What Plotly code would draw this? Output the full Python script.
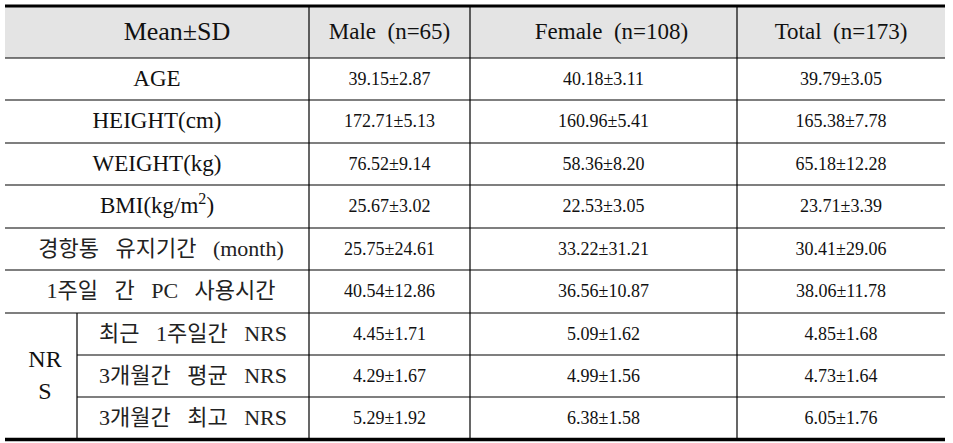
import plotly.graph_objects as go

# ---------------- data ----------------
SP = "\u00a0\u00a0\u00a0"
HSP = "\u00a0\u00a0"
header_labels = ["Mean±SD", "Male" + HSP + "(n=65)", "Female" + HSP + "(n=108)", "Total" + HSP + "(n=173)"]
row_labels = [
    "AGE",
    "HEIGHT(cm)",
    "WEIGHT(kg)",
    "BMI(kg/m<sup>2</sup>)",
    "경항통" + SP + "유지기간" + SP + "(month)",
    "1주일" + SP + "간" + SP + "PC" + SP + "사용시간",
]
nrs_group_label = "NR<br>S"
nrs_labels = [
    "최근" + SP + "1주일간" + SP + "NRS",
    "3개월간" + SP + "평균" + SP + "NRS",
    "3개월간" + SP + "최고" + SP + "NRS",
]
male_mean = [39.15, 172.71, 76.52, 25.67, 25.75, 40.54, 4.45, 4.29, 5.29]
male_sd = [2.87, 5.13, 9.14, 3.02, 24.61, 12.86, 1.71, 1.67, 1.92]
female_mean = [40.18, 160.96, 58.36, 22.53, 33.22, 36.56, 5.09, 4.99, 6.38]
female_sd = [3.11, 5.41, 8.20, 3.05, 31.21, 10.87, 1.62, 1.56, 1.58]
total_mean = [39.79, 165.38, 65.18, 23.71, 30.41, 38.06, 4.85, 4.73, 6.05]
total_sd = [3.05, 7.78, 12.28, 3.39, 29.06, 11.78, 1.68, 1.64, 1.76]

# ---------------- layout geometry ----------------
X_LEFT, X_SPLIT, X_C1, X_C2, X_C3, X_RIGHT = 5, 77, 309, 470, 737, 945
Y_TOP, Y_HEAD = 6, 58
ROW_LINES = [58, 100, 143, 185, 228, 270, 313, 355, 397, 439.5]

fig = go.Figure()

# header background
fig.add_shape(type="rect", xref="x", yref="y", x0=X_LEFT, x1=X_RIGHT, y0=Y_TOP, y1=Y_HEAD,
              fillcolor="#e4e4e4", line=dict(width=0), layer="below")

# vertical lines
for xv in [X_C1, X_C2, X_C3]:
    fig.add_shape(type="line", xref="x", yref="y", x0=xv, x1=xv, y0=Y_TOP, y1=ROW_LINES[-1],
                  line=dict(color="black", width=1.2))
fig.add_shape(type="line", xref="x", yref="y", x0=X_SPLIT, x1=X_SPLIT, y0=ROW_LINES[6], y1=ROW_LINES[-1],
              line=dict(color="black", width=1.2))

# horizontal lines
for i, yv in enumerate(ROW_LINES[:-1]):
    x0 = X_SPLIT if i in (7, 8) else X_LEFT
    fig.add_shape(type="line", xref="x", yref="y", x0=x0, x1=X_RIGHT, y0=yv, y1=yv,
                  line=dict(color="black", width=1.2))
# thick top & bottom
fig.add_shape(type="line", xref="x", yref="y", x0=X_LEFT, x1=X_RIGHT, y0=Y_TOP, y1=Y_TOP,
              line=dict(color="black", width=3))
fig.add_shape(type="line", xref="x", yref="y", x0=X_LEFT, x1=X_RIGHT, y0=ROW_LINES[-1], y1=ROW_LINES[-1],
              line=dict(color="black", width=3.5))

serif = "Liberation Serif, Noto Sans CJK KR, serif"
kor = "Liberation Serif, Noto Sans CJK KR, serif"

# header text
hx = [(X_LEFT + X_C1) / 2, (X_C1 + X_C2) / 2, (X_C2 + X_C3) / 2, (X_C3 + X_RIGHT) / 2]
hy = (Y_TOP + Y_HEAD) / 2 + 1
fig.add_trace(go.Scatter(x=[hx[0] + 20], y=[hy], mode="text", text=[header_labels[0]],
                         textfont=dict(family=serif, size=26, color="#111"), hoverinfo="skip"))
fig.add_trace(go.Scatter(x=[hx[1], hx[2] + 8, hx[3]], y=[hy] * 3, mode="text", text=header_labels[1:],
                         textfont=dict(family=serif, size=23, color="#111"), hoverinfo="skip"))

centers = [(ROW_LINES[i] + ROW_LINES[i + 1]) / 2 + 1 for i in range(len(ROW_LINES) - 1)]

# row labels
fig.add_trace(go.Scatter(x=[(X_LEFT + X_C1) / 2] * 4, y=centers[:4], mode="text",
                         text=row_labels[:4], textfont=dict(family=serif, size=23, color="#111"),
                         hoverinfo="skip"))
fig.add_trace(go.Scatter(x=[(X_LEFT + X_C1) / 2 + 4] * 2, y=centers[4:6], mode="text",
                         text=row_labels[4:6], textfont=dict(family=kor, size=22, color="#222"),
                         hoverinfo="skip"))
fig.add_trace(go.Scatter(x=[(X_SPLIT + X_C1) / 2] * 3, y=centers[6:9], mode="text",
                         text=nrs_labels, textfont=dict(family=kor, size=22, color="#222"),
                         hoverinfo="skip"))
fig.add_trace(go.Scatter(x=[(X_LEFT + X_SPLIT) / 2 + 4], y=[centers[7]], mode="text",
                         text=[nrs_group_label], textfont=dict(family=serif, size=24, color="#111"),
                         hoverinfo="skip"))

# values
for xc, means, sds in [(hx[1], male_mean, male_sd), (hx[2], female_mean, female_sd),
                       (hx[3], total_mean, total_sd)]:
    txt = [f"{m:.2f}±{s:.2f}" for m, s in zip(means, sds)]
    fig.add_trace(go.Scatter(x=[xc] * len(txt), y=centers, mode="text", text=txt,
                             textfont=dict(family=serif, size=18, color="#111"), hoverinfo="skip"))

fig.update_layout(
    width=953, height=443,
    margin=dict(l=0, r=0, t=0, b=0),
    paper_bgcolor="white", plot_bgcolor="white",
    showlegend=False,
    xaxis=dict(range=[0, 953], visible=False, fixedrange=True),
    yaxis=dict(range=[443, 0], visible=False, fixedrange=True),
)

fig.write_html("out.html", config={"displayModeBar": False},
               post_script="document.body.style.margin='0';document.body.style.overflow='hidden';")
